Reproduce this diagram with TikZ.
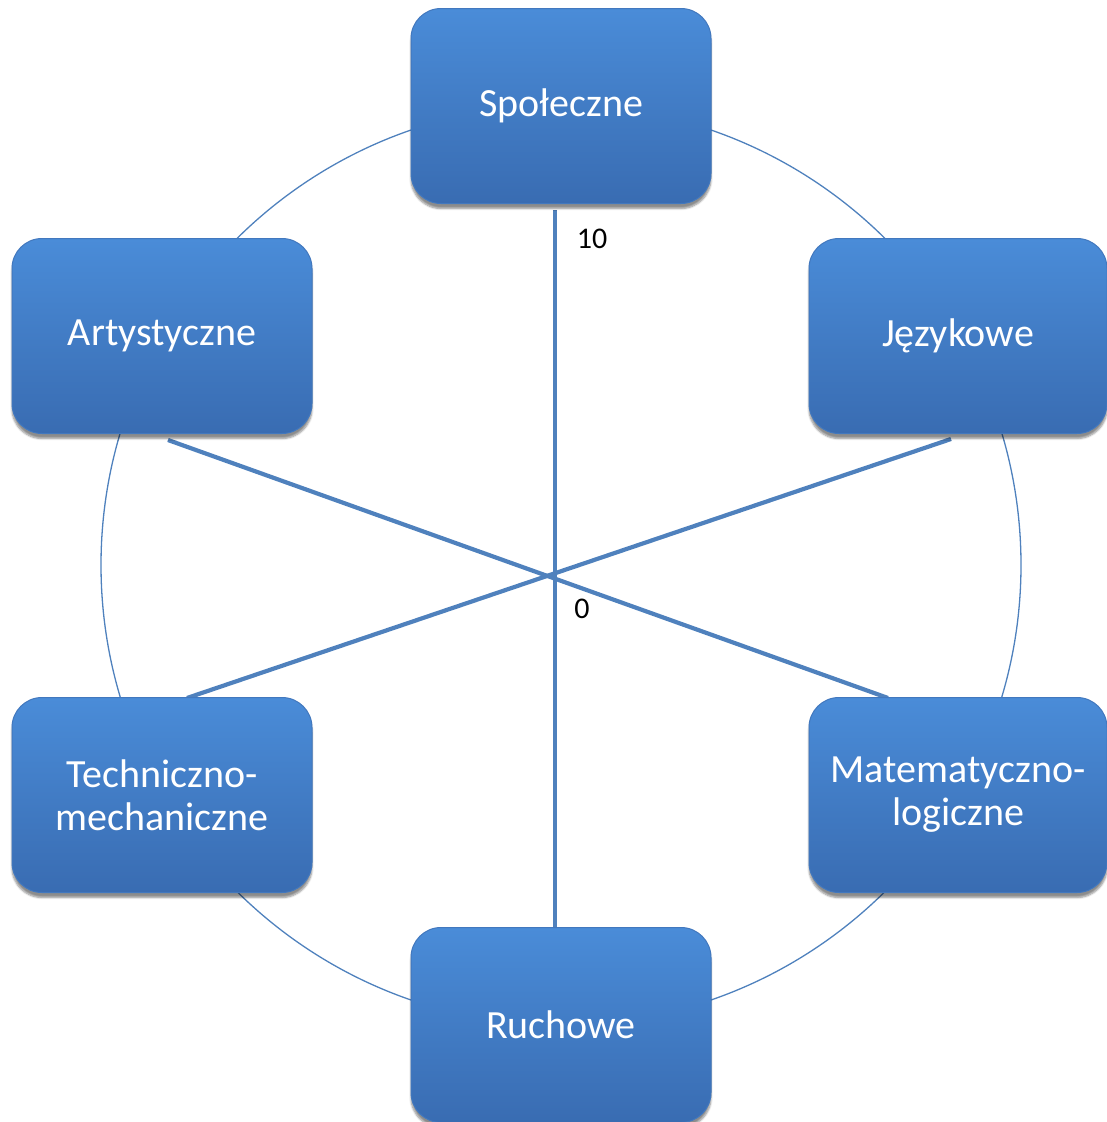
\documentclass[tikz,border=0pt]{standalone}
\usepackage{fontspec}
\setmainfont{Carlito}
\usetikzlibrary{shadows.blur}
\definecolor{boxtop}{RGB}{74,140,216}
\definecolor{boxbottom}{RGB}{57,108,178}
\definecolor{boxedge}{RGB}{66,120,190}
\definecolor{axisblue}{RGB}{79,129,189}

\begin{document}
\begin{tikzpicture}[x=1pt, y=-1pt,
    area/.style={rectangle, rounded corners=30pt, minimum width=300pt,
        minimum height=195pt, top color=boxtop, bottom color=boxbottom,
        draw=boxedge, line width=1pt, text=white, align=center,
        font=\fontsize{40}{43}\selectfont,
        blur shadow={shadow xshift=0pt, shadow yshift=-5pt,
            shadow blur steps=6, shadow opacity=45}},
    ray/.style={axisblue, line width=4.2pt},
    scalelabel/.style={font=\fontsize{30}{34}\selectfont}]
    \useasboundingbox (0,0) rectangle (1107,1122);
    % ring behind the boxes
    \draw[axisblue, line width=1.3pt] (561,565) circle[radius=460];
    % ray ends
    \coordinate (top)  at (555,210);
    \coordinate (bot)  at (555,928);
    \coordinate (artE) at (168,440);
    \coordinate (matE) at (888,698);
    \coordinate (jezE) at (951,439);
    \coordinate (tecE) at (187,698);
    \draw[ray] (top) -- (bot);
    \draw[ray] (artE) -- (matE);
    \draw[ray] (jezE) -- (tecE);
    \node[scalelabel] (max) at (592,239) {10};
    \node[scalelabel] (min) at (582,609) {0};
    % the six areas
    \node[area] (spol) at (561,106)  {Społeczne};
    \node[area] (art)  at (162,336)  {Artystyczne};
    \node[area, minimum width=298pt] (jez)  at (958,336)  {Językowe};
    \node[area] (tec)  at (162,795)  {Techniczno-\\mechaniczne};
    \node[area, minimum width=298pt] (mat)  at (958,795)  {Matematyczno-\\logiczne};
    \node[area] (ruch) at (561,1025) {Ruchowe};
\end{tikzpicture}
\end{document}
